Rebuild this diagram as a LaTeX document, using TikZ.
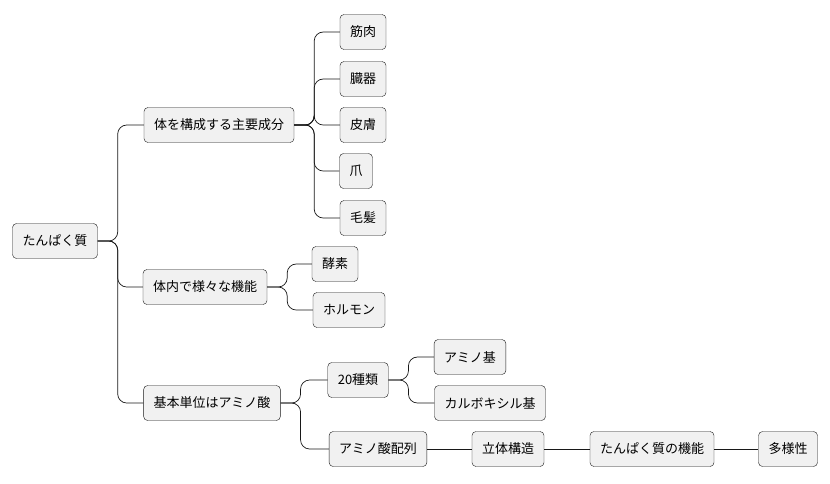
\documentclass[tikz,border=0pt]{standalone}
\usepackage{fontspec}
\setmainfont{Noto Sans CJK JP}
\usetikzlibrary{positioning,calc}
\definecolor{boxfill}{RGB}{241,241,241}
\definecolor{boxline}{RGB}{24,24,24}

\begin{document}
\begin{tikzpicture}[x=1pt,y=-1pt,
  topic/.style={rectangle,draw=boxline,fill=boxfill,rounded corners=4pt,
    minimum height=35pt,inner xsep=10pt,font=\fontsize{13}{15}\selectfont},
  link/.style={draw=boxline,rounded corners=9pt,line width=0.7pt}]
  \useasboundingbox (0,0) rectangle (830,483);

  % Root
  \node[topic] (root) at (55,241) {たんぱく質};

  % First level
  \node[topic] (body) at (219,125) {体を構成する主要成分};
  \node[topic] (func) at (205,287) {体内で様々な機能};
  \node[topic] (unit) at (212,403) {基本単位はアミノ酸};

  % Body parts
  \node[topic] (muscle) at (363,32) {筋肉};
  \node[topic] (organ) at (363,79) {臓器};
  \node[topic] (skin) at (363,125) {皮膚};
  \node[topic] (nail) at (356,171) {爪};
  \node[topic] (hair) at (363,218) {毛髪};

  % Functions
  \node[topic] (enzyme) at (335,264) {酵素};
  \node[topic] (hormone) at (349,310) {ホルモン};

  % Amino acids
  \node[topic] (kinds) at (358,380) {20種類};
  \node[topic] (amino) at (470,357) {アミノ基};
  \node[topic] (carboxyl) at (490,403) {カルボキシル基};
  \node[topic] (seq) at (378,449) {アミノ酸配列};
  \node[topic] (shape) at (508,449) {立体構造};
  \node[topic] (role) at (652,449) {たんぱく質の機能};
  \node[topic] (variety) at (788,449) {多様性};

  % Connectors
  \foreach \a/\b in {root/body,root/func,root/unit,
      body/muscle,body/organ,body/skin,body/nail,body/hair,
      func/enzyme,func/hormone,unit/kinds,unit/seq,
      kinds/amino,kinds/carboxyl}
    \draw[link] (\a.east) -- ++(20,0) |- (\b.west);
  \draw[link] (seq) -- (shape);
  \draw[link] (shape) -- (role);
  \draw[link] (role) -- (variety);

\end{tikzpicture}
\end{document}
